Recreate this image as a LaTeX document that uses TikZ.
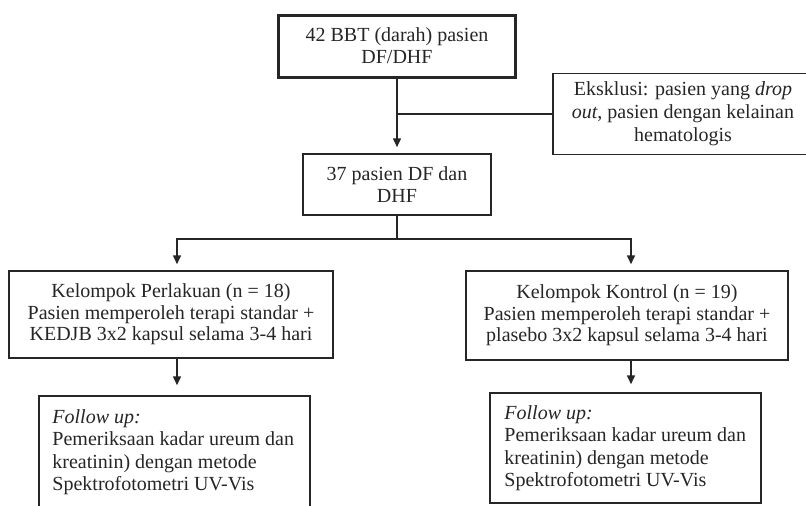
\documentclass[tikz,border=0pt]{standalone}
\usepackage{fontspec}
\setmainfont{Liberation Serif}
\usetikzlibrary{arrows.meta,calc}
\definecolor{ink}{HTML}{262626}
\tikzset{
  x=1pt, y=-1pt,
  box/.style={draw=ink, line width=1.5pt, rectangle, inner sep=0pt, align=center,
    text=ink, font=\fontsize{20}{22}\selectfont},
  arr/.style={draw=ink, line width=1.5pt, -{Triangle[width=8pt,length=9pt]}},
  ln/.style={draw=ink, line width=1.5pt},
  txt/.style={text=ink, font=\fontsize{20}{22.5}\selectfont, inner sep=0pt, align=left}
}
\begin{document}
\begin{tikzpicture}
\useasboundingbox (0,0) rectangle (806,506);
\clip (0,0) rectangle (806,506);
\fill[white] (0,0) rectangle (806,506);

\node[box, line width=3pt, minimum width=237pt, minimum height=62pt] (top) at (397,46)
  {42 BBT (darah) pasien\\DF/DHF};
\node[box, minimum width=260pt, minimum height=81pt, font=\fontsize{20}{23}\selectfont] (ex) at (683,114)
  {Eksklusi: pasien yang \textit{drop}\\\textit{out}, pasien dengan kelainan\\hematologis};
\node[box, minimum width=188pt, minimum height=61pt] (mid) at (397,184.5)
  {37 pasien DF dan\\DHF};
\node[box, minimum width=324pt, minimum height=87pt, font=\fontsize{20}{21.5}\selectfont] (L) at (171,314.5)
  {Kelompok Perlakuan (n = 18)\\Pasien memperoleh terapi standar +\\KEDJB 3x2 kapsul selama 3-4 hari};
\node[box, minimum width=322pt, minimum height=89pt, font=\fontsize{20}{21.5}\selectfont] (R) at (627,315.5)
  {Kelompok Kontrol (n = 19)\\Pasien memperoleh terapi standar +\\plasebo 3x2 kapsul selama 3-4 hari};
\node[box, minimum width=271pt, minimum height=140pt] (F1) at (174.5,466) {};
\node[box, minimum width=271pt, minimum height=110pt] (F2) at (625.5,448) {};
\node[txt, anchor=north west] (t1) at ([xshift=14pt,yshift=-14pt]F1.north west)
  {\textit{Follow up:}\\Pemeriksaan kadar ureum dan\\kreatinin) dengan metode\\Spektrofotometri UV-Vis};
\node[txt, anchor=north west] (t2) at ([xshift=15pt,yshift=-13pt]F2.north west)
  {\textit{Follow up:}\\Pemeriksaan kadar ureum dan\\kreatinin) dengan metode\\Spektrofotometri UV-Vis};

\draw[arr, shorten >=6pt] (top.south) -- (mid.north);
\draw[ln] (ex.west) -- (top.south |- ex.west);
\draw[arr, shorten >=6pt] (mid.south) -- (mid.south |- 0,239) -| ([xshift=6pt]L.north);
\draw[arr, shorten >=6pt] (mid.south |- 0,239) -| ([xshift=4pt]R.north);
\draw[arr, shorten >=10pt] ([xshift=6pt]L.south) -- ([xshift=6pt]L.south |- F1.north);
\draw[arr, shorten >=8pt] ([xshift=4pt]R.south) -- ([xshift=4pt]R.south |- F2.north);
\end{tikzpicture}
\end{document}
